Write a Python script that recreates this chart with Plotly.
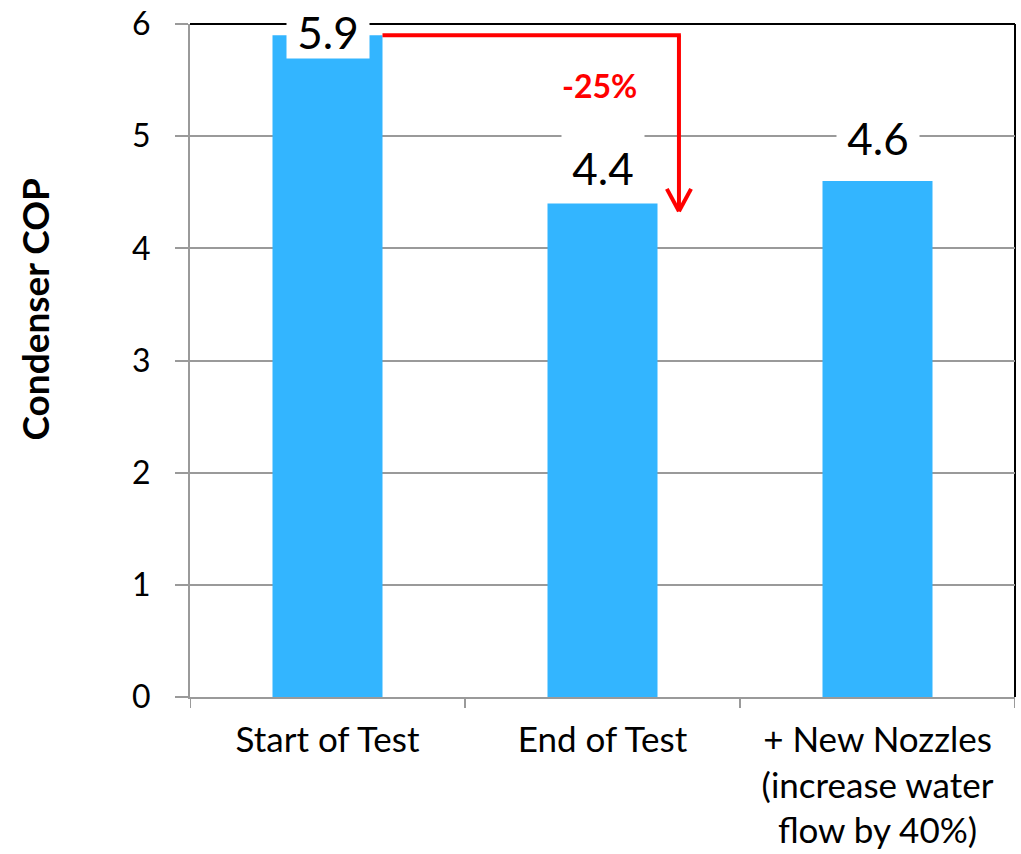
import plotly.graph_objects as go

# Condenser COP by test stage
categories = ["Start of Test", "End of Test", "+ New Nozzles<br>(increase water<br>flow by 40%)"]
cop_values = [5.9, 4.4, 4.6]
value_labels = ["5.9", "4.4", "4.6"]
change_label = "-25%"
y_ticks = [0, 1, 2, 3, 4, 5, 6]

FONT = "Lato"
BAR_COLOR = "#33B5FF"
GRID = "#9a9a9a"
RED = "#FF0000"

fig = go.Figure(
    go.Bar(
        x=list(range(len(categories))),
        y=cop_values,
        marker=dict(color=BAR_COLOR, line=dict(width=0)),
        width=0.4,
        hoverinfo="skip",
    )
)

# Per-label vertical offsets (px) of the white label boxes above each bar top
label_shift = [-24, 8, 16]
for i, (v, t) in enumerate(zip(cop_values, value_labels)):
    fig.add_annotation(
        x=i, y=v, xref="x", yref="y",
        text=t, showarrow=False,
        font=dict(family=FONT, size=44, color="black"),
        bgcolor="white", width=82, height=72, valign="bottom",
        borderpad=0, yanchor="bottom", yshift=label_shift[i],
    )

# Plot-area frame: top and right edges
fig.add_shape(type="line", xref="paper", yref="paper", x0=0, x1=1, y0=1, y1=1,
              line=dict(color="black", width=2), layer="below")
fig.add_shape(type="line", xref="paper", yref="paper", x0=1, x1=1, y0=0, y1=1,
              line=dict(color="black", width=2), layer="below")

# Red elbow arrow from the first bar's top down toward the second bar
elbow_x = 1.278
top_y = cop_values[0]
tip_y = 4.33
red = dict(color=RED, width=4)
fig.add_shape(type="line", x0=0.2, x1=elbow_x + 0.007, y0=top_y, y1=top_y, line=red)
fig.add_shape(type="line", x0=elbow_x, x1=elbow_x, y0=top_y, y1=tip_y, line=red)
fig.add_shape(type="line", x0=elbow_x - 0.044, x1=elbow_x, y0=4.53, y1=tip_y, line=red)
fig.add_shape(type="line", x0=elbow_x + 0.044, x1=elbow_x, y0=4.53, y1=tip_y, line=red)

fig.add_annotation(
    x=0.99, y=5.45, xref="x", yref="y", text="<b>" + change_label + "</b>",
    showarrow=False, font=dict(family=FONT, size=32, color=RED),
)

# Y-axis title
fig.add_annotation(
    x=-0.188, y=0.577, xref="paper", yref="paper", xanchor="center", yanchor="middle",
    text="<b>Condenser COP</b>", textangle=-90, showarrow=False,
    font=dict(family=FONT, size=37, color="black"),
)

fig.update_layout(
    width=1021, height=854,
    margin=dict(l=190, r=6, t=24, b=157, autoexpand=False),
    paper_bgcolor="white", plot_bgcolor="white",
    showlegend=False,
    font=dict(family=FONT, color="black"),
)
fig.update_xaxes(
    type="linear", range=[-0.5, 2.5],
    tickmode="array", tickvals=list(range(len(categories))), ticktext=categories,
    tickfont=dict(family=FONT, size=35, color="black"),
    showline=True, linecolor=GRID, linewidth=2,
    ticks="", showgrid=False, zeroline=False, fixedrange=True,
    ticklabelstandoff=11, automargin=False,
)
# Boundary tick marks below the category axis
for b in [-0.5, 0.5, 1.5, 2.5]:
    fig.add_shape(type="line", x0=b, x1=b, yref="paper", y0=0, y1=-0.0165,
                  line=dict(color=GRID, width=2))
fig.update_yaxes(
    range=[0, 6], tickvals=y_ticks,
    tickfont=dict(family=FONT, size=32, color="black"),
    showline=True, linecolor=GRID, linewidth=2,
    ticks="outside", ticklen=13, tickcolor=GRID, tickwidth=2,
    showgrid=True, gridcolor=GRID, gridwidth=1.5,
    zeroline=False, ticklabelstandoff=18, fixedrange=True, automargin=False,
)

fig.write_html("out.html")
